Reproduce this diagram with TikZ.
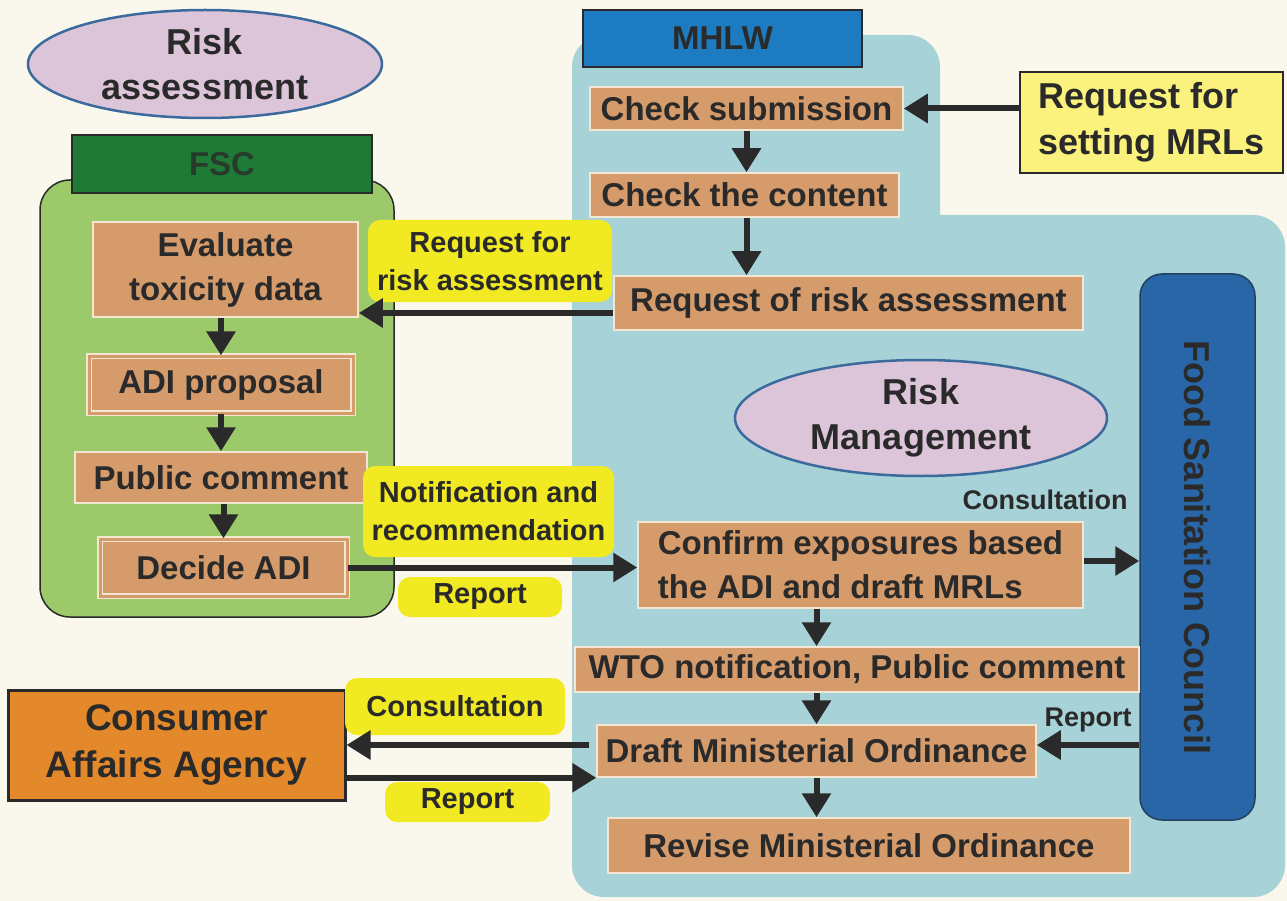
\documentclass[tikz,border=0pt]{standalone}
\usepackage{fontspec}
\setmainfont{Liberation Sans}
\usepackage{xcolor}
\usepackage{graphicx}
\usepackage{tikz}
\usetikzlibrary{shapes.geometric,arrows.meta}
\definecolor{paper}{HTML}{FAF8EC}
\definecolor{ink}{HTML}{2A2A2A}
\definecolor{tanbox}{HTML}{D69B6B}
\definecolor{tanedge}{HTML}{F3E6D3}
\definecolor{fscgreen}{HTML}{9CCA6B}
\definecolor{fschead}{HTML}{1F7A35}
\definecolor{mhlwblue}{HTML}{1D7CC1}
\definecolor{panelblue}{HTML}{A7D3D8}
\definecolor{councilblue}{HTML}{2966A7}
\definecolor{tagyellow}{HTML}{F1EA22}
\definecolor{mrlyellow}{HTML}{FAF27C}
\definecolor{caaorange}{HTML}{E4892B}
\definecolor{ovalpink}{HTML}{DCC5D9}
\definecolor{ovaledge}{HTML}{3B6B9D}
\tikzset{proc/.style={rectangle,fill=tanbox,draw=tanedge,line width=1.5pt,inner sep=0pt,text=ink,align=center,font=\fontsize{33}{44}\selectfont\bfseries},
  procdbl/.style={proc,double=tanbox,double distance=3pt,line width=1.2pt},
  tag/.style={rectangle,rounded corners=12pt,fill=tagyellow,inner sep=0pt,text=ink,align=center,font=\fontsize{29}{38}\selectfont\bfseries},
  lbl/.style={text=ink,inner sep=0pt,font=\fontsize{27}{32}\selectfont\bfseries},
  oval/.style={ellipse,fill=ovalpink,draw=ovaledge,line width=2.5pt,inner sep=0pt,text=ink,align=center,font=\fontsize{36}{45}\selectfont\bfseries},
  head/.style={rectangle,draw=ink,line width=1.5pt,inner sep=0pt,font=\fontsize{33}{40}\selectfont\bfseries},
  flow/.style={->,draw=ink,line width=6pt}}

\begin{document}
\begin{tikzpicture}[x=1pt,y=-1pt,>={Triangle[length=24pt,width=28pt]}]
    \clip (0,0) rectangle (1287,901);
    \fill [paper] (0,0) rectangle (1287,901);
    \fill [panelblue,rounded corners=32pt] (572,35) rectangle (940,400);
    \fill [panelblue,rounded corners=32pt] (572,215) rectangle (1285,897);
    \draw [fill=fscgreen,draw=ink,line width=1.5pt,rounded corners=30pt] (40,180) rectangle (394,617);

    \node[oval,minimum width=354pt,minimum height=108pt] (ra) at (205,64) {Risk\\assessment};
    \node[head,fill=fschead,text=ink!80!fschead,minimum width=300pt,minimum height=58pt] (fsc) at (222,164) {FSC};
    \node[proc,minimum width=265pt,minimum height=95pt] (eval) at (225.5,269.5) {Evaluate\\toxicity data};
    \node[procdbl,minimum width=264pt,minimum height=57pt] (adi) at (221,384.5) {ADI proposal};
    \node[proc,minimum width=292pt,minimum height=51pt] (pubc) at (221,477.5) {Public comment};
    \node[procdbl,minimum width=247pt,minimum height=57pt] (decide) at (223.5,567.5) {Decide ADI};

    \node[head,fill=mhlwblue,text=ink,minimum width=279pt,minimum height=57pt] (mhlw) at (722.5,38.5) {MHLW};
    \node[proc,minimum width=313pt,minimum height=43pt] (chksub) at (746.5,108.5) {Check submission};
    \node[proc,minimum width=309pt,minimum height=44pt] (chkcont) at (744.5,195) {Check the content};
    \node[proc,minimum width=469pt,minimum height=54pt] (reqrisk) at (848.5,303) {Request of risk assessment};
    \node[head,fill=mrlyellow,text=ink,align=left,font=\fontsize{36}{46}\selectfont\bfseries,minimum width=263pt,minimum height=101pt] (mrl) at (1151.5,122.5) {Request for\\setting MRLs};
    \node[rectangle,rounded corners=22pt,fill=councilblue,draw=ovaledge!60!black,line width=1.5pt,inner sep=0pt,text=ink,font=\fontsize{36}{40}\selectfont\bfseries,minimum width=115pt,minimum height=546pt] (council) at (1197.5,547) {\rotatebox{-90}{Food Sanitation Council}};
    \node[oval,minimum width=372pt,minimum height=116pt] (rm) at (921,418) {Risk\\Management};
    \node[proc,minimum width=445pt,minimum height=86pt,align=left] (confirm) at (860.5,565) {Confirm exposures based\\the ADI and draft MRLs};
    \node[proc,minimum width=564pt,minimum height=45pt] (wto) at (857,669.5) {WTO notification, Public comment};
    \node[proc,minimum width=439pt,minimum height=52pt] (draft) at (816.5,751) {Draft Ministerial Ordinance};
    \node[proc,minimum width=522pt,minimum height=55pt] (revise) at (869,845.5) {Revise Ministerial Ordinance};
    \node[head,fill=caaorange,text=ink,line width=3pt,align=center,font=\fontsize{37}{47}\selectfont\bfseries,minimum width=337pt,minimum height=110pt] (caa) at (176.5,745) {Consumer\\Affairs Agency};

    \node[tag,minimum width=244pt,minimum height=82pt] (tagreq) at (490,261) {Request for\\risk assessment};
    \node[tag,minimum width=251pt,minimum height=91pt] (tagnotif) at (488.5,511.5) {Notification and\\recommendation};
    \node[tag,minimum width=164pt,minimum height=40pt] (tagrep) at (480,597) {Report};
    \node[tag,minimum width=220pt,minimum height=57pt] (tagcons) at (455,706.5) {Consultation};
    \node[tag,minimum width=165pt,minimum height=40pt] (tagrep2) at (467.5,802) {Report};
    \node[lbl] (lblcons) at (1045,500) {Consultation};
    \node[lbl] (lblrep) at (1088,720) {Report};

    \draw [flow] (mrl.west |- chksub.east) to [] (chksub.east);
    \draw [flow] (chksub.south) to [] (chksub.south |- chkcont.north);
    \draw [flow] (chksub.south |- chkcont.south) to [] (chksub.south |- reqrisk.north);
    \draw [flow] ([yshift=-10pt]reqrisk.west) to [] ([yshift=-10pt]reqrisk.west -| eval.east);
    \draw [flow] (adi.north |- eval.south) to [] (adi.north);
    \draw [flow] (adi.south) to [] (adi.south |- pubc.north);
    \draw [flow] (decide.north |- pubc.south) to [] (decide.north);
    \draw [flow] (decide.east) to [] (decide.east -| confirm.west);
    \draw [flow] ([yshift=4pt]confirm.east) to [] ([yshift=4pt]confirm.east -| council.west);
    \draw [flow] (draft |- confirm.south) to [] (draft |- wto.north);
    \draw [flow] (draft |- wto.south) to [] (draft.north);
    \draw [flow] (draft.south) to [] (draft.south |- revise.north);
    \draw [flow] ([yshift=6pt]draft.east -| council.west) to [] ([yshift=6pt]draft.east);
    \draw [flow] ([yshift=6pt,xshift=-7pt]draft.west) to [] ([yshift=6pt]draft.west -| caa.east);
    \draw [flow] (caa.east |- draft.south west) to [] (draft.south west);
\end{tikzpicture}
\end{document}
